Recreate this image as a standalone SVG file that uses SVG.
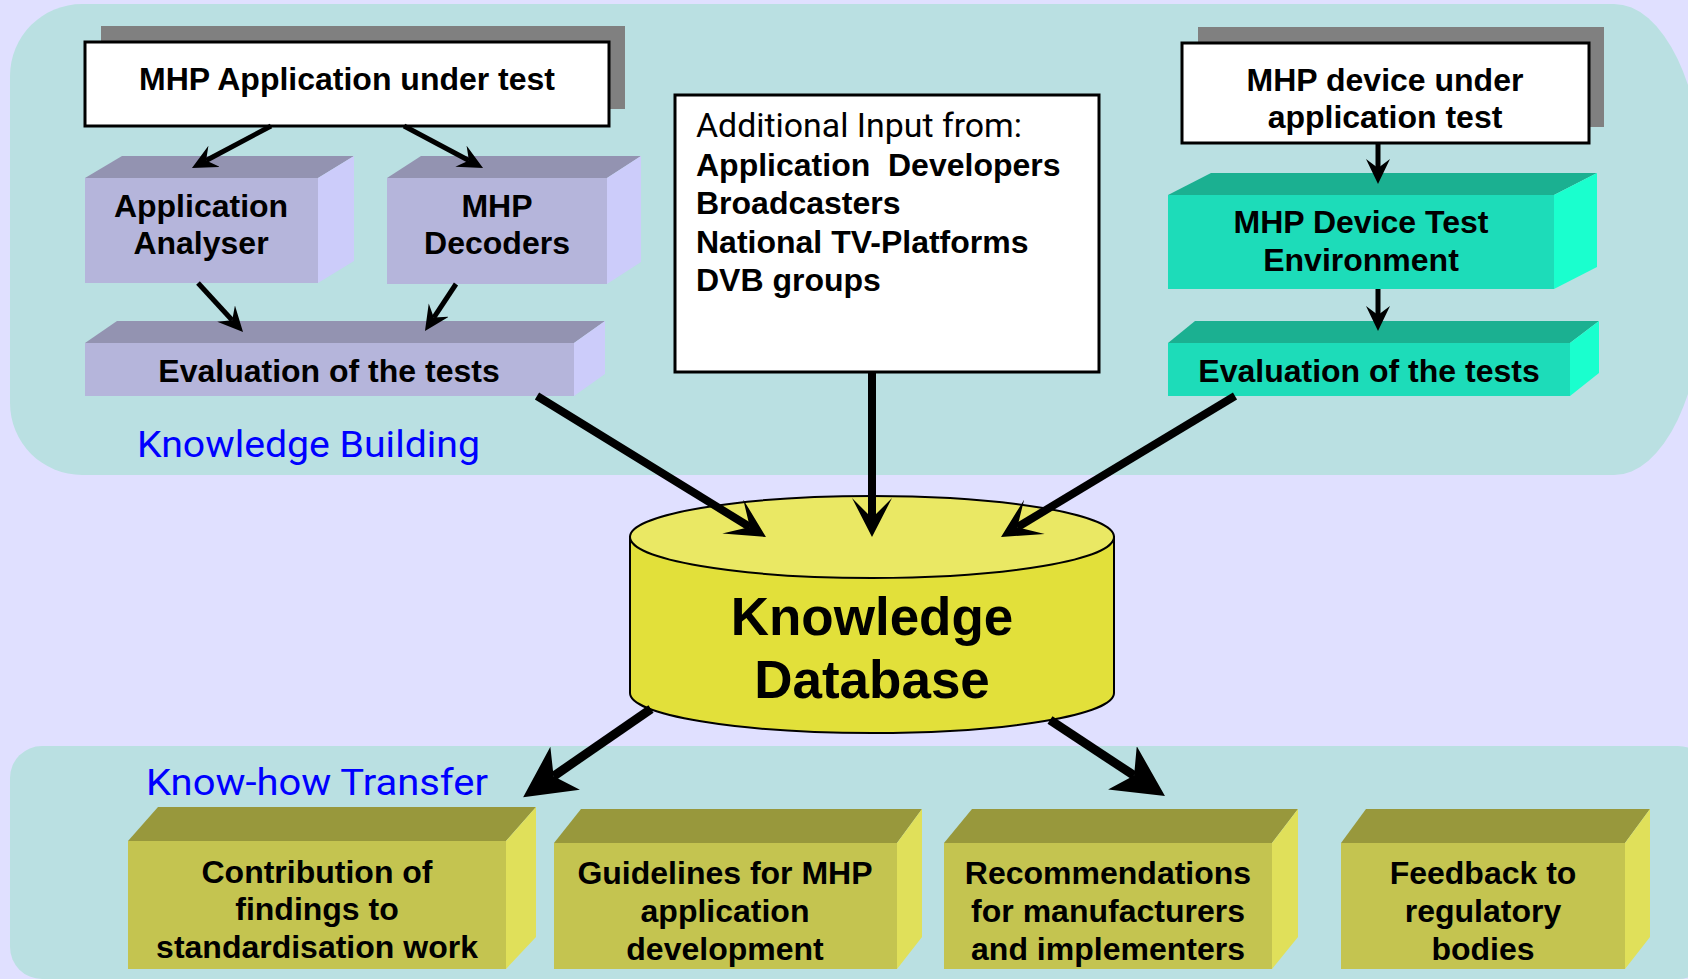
<svg xmlns="http://www.w3.org/2000/svg" width="1688" height="979" viewBox="0 0 1688 979">
  <style>
    .t { font-family: "Liberation Sans", Arial, sans-serif; font-weight: bold; font-size: 32px; fill: #000; text-anchor: middle; }
    .tl { font-family: "Liberation Sans", Arial, sans-serif; font-weight: bold; font-size: 32px; fill: #000; }
    .dbt { font-size: 53px; }
    .din { font-family: Roboto, "DejaVu Sans", sans-serif; font-weight: normal; }
    .blue { fill: #0000ff; font-size: 37px; }
    .addl { fill: #000; font-size: 33px; }
    .wbox { fill: #ffffff; stroke: #000; stroke-width: 3; }
    .shadow { fill: #808080; }
    .pf { fill: #b5b5db; } .pt { fill: #9393b1; } .pr { fill: #ccccfa; }
    .gf { fill: #1ddcb9; } .gt { fill: #1bb091; } .gr { fill: #1affce; }
    .yf { fill: #c4c450; } .yt { fill: #98983c; } .yr { fill: #e0e05a; }
    .panel { fill: #bae0e2; }
    .conn { fill: none; stroke: #000; }
    .big { stroke-width: 8; marker-end: url(#arrowL); }
    .bot { stroke-width: 9; marker-end: url(#arrowB); }
    .small { stroke-width: 5; marker-end: url(#arrowS); }
  </style>
  <defs>
    <marker id="arrowL" markerUnits="userSpaceOnUse" markerWidth="42" markerHeight="42" refX="21" refY="20" orient="auto">
      <path d="M1,0 L40,20 L1,40 L21,20 Z" fill="#000"/>
    </marker>
    <marker id="arrowB" markerUnits="userSpaceOnUse" markerWidth="54" markerHeight="54" refX="14" refY="26" orient="auto">
      <path d="M0,0 L51,26 L0,52 L14,26 Z" fill="#000"/>
    </marker>
    <marker id="arrowS" markerUnits="userSpaceOnUse" markerWidth="27" markerHeight="26" refX="9" refY="12" orient="auto">
      <path d="M0,0 L25,12 L0,24 L9,12 Z" fill="#000"/>
    </marker>
  </defs>

  <rect x="0" y="0" width="1688" height="979" fill="#e0e0ff"/>

  <g id="panel-knowledge-building">
    <path class="panel" d="M82,4 H1614 A90 188 0 0 1 1704 192 V287 A90 188 0 0 1 1614 475 H82 A72 72 0 0 1 10 403 V76 A72 72 0 0 1 82 4 Z"/>
    <text class="din blue" x="137" y="457" textLength="343" lengthAdjust="spacingAndGlyphs">Knowledge Building</text>
  </g>

  <g id="panel-knowhow-transfer">
    <rect class="panel" x="10" y="746" width="1700" height="233" rx="32" ry="32"/>
    <text class="din blue" x="146" y="795" textLength="342" lengthAdjust="spacingAndGlyphs">Know-how Transfer</text>
  </g>

  <g id="app-under-test">
    <rect class="shadow" x="101" y="26" width="524" height="83"/>
    <rect class="wbox" x="85" y="42" width="524" height="84"/>
    <text class="t" x="347" y="90">MHP Application under test</text>
  </g>

  <g id="app-analyser">
    <rect class="pf" x="85" y="178" width="233" height="105"/>
    <polygon class="pt" points="85,178 122,156 354,156 318,178"/>
    <polygon class="pr" points="318,178 354,156 354,261 318,283"/>
    <text class="t" x="201" y="217">Application</text>
    <text class="t" x="201" y="254">Analyser</text>
  </g>

  <g id="mhp-decoders">
    <rect class="pf" x="387" y="178" width="220" height="106"/>
    <polygon class="pt" points="387,178 421,156 641,156 607,178"/>
    <polygon class="pr" points="607,178 641,156 641,262 607,284"/>
    <text class="t" x="497" y="217">MHP</text>
    <text class="t" x="497" y="254">Decoders</text>
  </g>

  <g id="eval-left">
    <rect class="pf" x="85" y="343" width="489" height="53"/>
    <polygon class="pt" points="85,343 117,321 605,321 574,343"/>
    <polygon class="pr" points="574,343 605,321 605,374 574,396"/>
    <text class="t" x="329" y="382">Evaluation of the tests</text>
  </g>

  <g id="additional-input">
    <rect class="wbox" x="675" y="95" width="424" height="277"/>
    <text class="din addl" x="696" y="137" textLength="326" lengthAdjust="spacingAndGlyphs">Additional Input from:</text>
    <text class="tl" x="696" y="176" xml:space="preserve">Application  Developers</text>
    <text class="tl" x="696" y="214">Broadcasters</text>
    <text class="tl" x="696" y="253">National TV-Platforms</text>
    <text class="tl" x="696" y="291">DVB groups</text>
  </g>

  <g id="device-under-test">
    <rect class="shadow" x="1198" y="27" width="406" height="100"/>
    <rect class="wbox" x="1182" y="43" width="407" height="100"/>
    <text class="t" x="1385" y="91">MHP device under</text>
    <text class="t" x="1385" y="128">application test</text>
  </g>

  <g id="device-test-env">
    <rect class="gf" x="1168" y="195" width="386" height="94"/>
    <polygon class="gt" points="1168,195 1211,173 1597,173 1554,195"/>
    <polygon class="gr" points="1554,195 1597,173 1597,267 1554,289"/>
    <text class="t" x="1361" y="233">MHP Device Test</text>
    <text class="t" x="1361" y="271">Environment</text>
  </g>

  <g id="eval-right">
    <rect class="gf" x="1168" y="343" width="402" height="53"/>
    <polygon class="gt" points="1168,343 1195,321 1599,321 1570,343"/>
    <polygon class="gr" points="1570,343 1599,321 1599,373 1570,396"/>
    <text class="t" x="1369" y="382">Evaluation of the tests</text>
  </g>

  <g id="knowledge-database">
    <path d="M630,537 V693 A242 40 0 0 0 1114 693 V537 Z" fill="#e2e03a" stroke="#000" stroke-width="2"/>
    <ellipse cx="872" cy="537" rx="242" ry="41" fill="#eae864" stroke="#000" stroke-width="2"/>
    <text class="t dbt" x="872" y="635">Knowledge</text>
    <text class="t dbt" x="872" y="698">Database</text>
  </g>

  <g id="out-standardisation">
    <rect class="yf" x="128" y="841" width="378" height="128"/>
    <polygon class="yt" points="128,841 158,807 536,807 506,841"/>
    <polygon class="yr" points="506,841 536,807 536,937 506,969"/>
    <text class="t" x="317" y="883">Contribution of</text>
    <text class="t" x="317" y="920">findings to</text>
    <text class="t" x="317" y="958">standardisation work</text>
  </g>

  <g id="out-guidelines">
    <rect class="yf" x="554" y="843" width="343" height="126"/>
    <polygon class="yt" points="554,843 581,809 922,809 897,843"/>
    <polygon class="yr" points="897,843 922,809 922,937 897,969"/>
    <text class="t" x="725" y="884">Guidelines for MHP</text>
    <text class="t" x="725" y="922">application</text>
    <text class="t" x="725" y="960">development</text>
  </g>

  <g id="out-recommendations">
    <rect class="yf" x="944" y="843" width="328" height="126"/>
    <polygon class="yt" points="944,843 972,809 1298,809 1272,843"/>
    <polygon class="yr" points="1272,843 1298,809 1298,937 1272,969"/>
    <text class="t" x="1108" y="884">Recommendations</text>
    <text class="t" x="1108" y="922">for manufacturers</text>
    <text class="t" x="1108" y="960">and implementers</text>
  </g>

  <g id="out-feedback">
    <rect class="yf" x="1341" y="843" width="284" height="126"/>
    <polygon class="yt" points="1341,843 1366,809 1650,809 1625,843"/>
    <polygon class="yr" points="1625,843 1650,809 1650,937 1625,969"/>
    <text class="t" x="1483" y="884">Feedback to</text>
    <text class="t" x="1483" y="922">regulatory</text>
    <text class="t" x="1483" y="960">bodies</text>
  </g>

  <g id="connectors">
    <line class="conn small" x1="271" y1="126" x2="206.1" y2="160.5"/>
    <line class="conn small" x1="404" y1="126" x2="468.9" y2="160.5"/>
    <line class="conn small" x1="198" y1="283" x2="232.2" y2="320.2"/>
    <line class="conn small" x1="456" y1="284" x2="433.8" y2="317.6"/>
    <line class="conn small" x1="1378" y1="143" x2="1378" y2="168"/>
    <line class="conn small" x1="1378" y1="289" x2="1378" y2="315"/>
    <line class="conn big" x1="537" y1="396" x2="749.8" y2="527"/>
    <line class="conn big" x1="872" y1="372" x2="872" y2="518"/>
    <line class="conn big" x1="1235" y1="396" x2="1017.3" y2="527.2"/>
    <line class="conn bot" x1="651" y1="709" x2="553.6" y2="776.2"/>
    <line class="conn bot" x1="1050" y1="720" x2="1134.1" y2="775.6"/>
  </g>
</svg>
